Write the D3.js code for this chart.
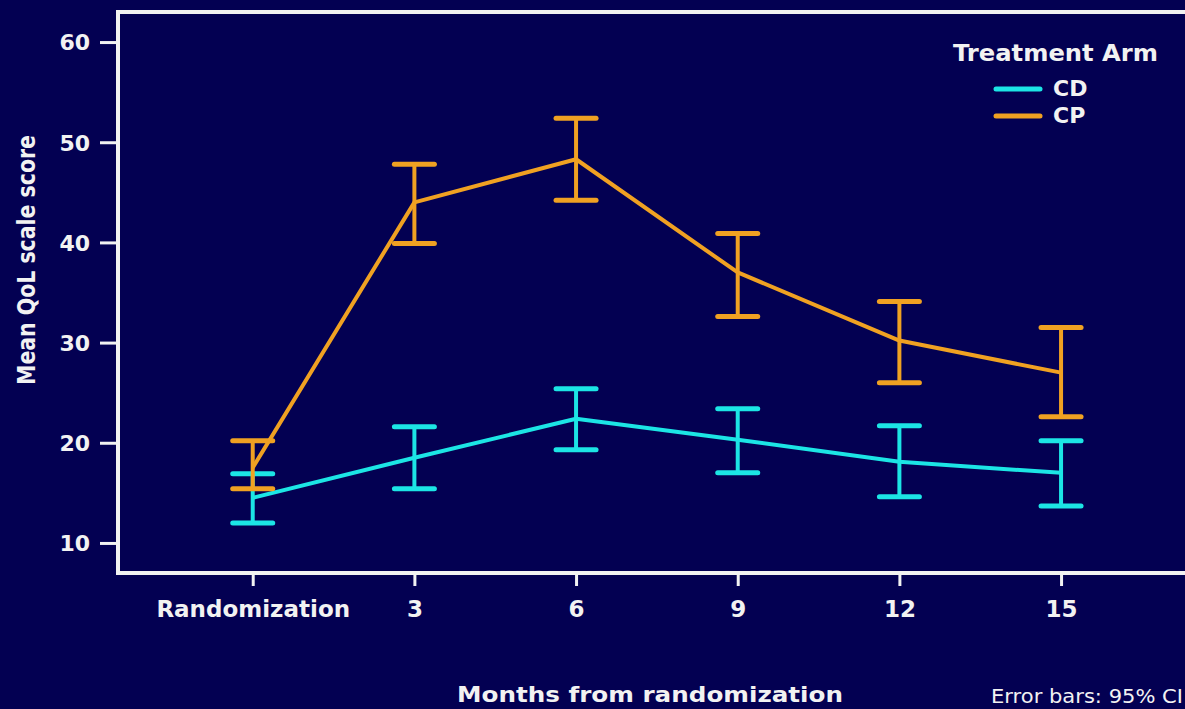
<!DOCTYPE html>
<html>
<head>
<meta charset="utf-8">
<script src="https://cdn.jsdelivr.net/npm/d3@7/dist/d3.min.js"></script>
<style>
  html, body { margin: 0; padding: 0; background: #030052; }
  svg { display: block; }
  text { font-family: "DejaVu Sans", "Open Sans", sans-serif; fill: #f2f2f2; }
</style>
</head>
<body>
<svg id="chart" width="1185" height="709"></svg>
<script>
// Visits (months from randomization) and their tick labels
const months = [0, 3, 6, 9, 12, 15];
const monthLabels = ["Randomization", "3", "6", "9", "12", "15"];
const yTicks = [10, 20, 30, 40, 50, 60];

// Mean QoL scale score and 95% CI per arm
const cdMean  = [14.5, 18.5, 22.4, 20.3, 18.1, 17.0];
const cdLower = [12.0, 15.4, 19.3, 17.0, 14.6, 13.7];
const cdUpper = [16.9, 21.6, 25.4, 23.4, 21.7, 20.2];

const cpMean  = [17.5, 44.0, 48.3, 37.0, 30.2, 27.0];
const cpLower = [15.4, 39.9, 44.2, 32.6, 26.0, 22.6];
const cpUpper = [20.2, 47.8, 52.4, 40.9, 34.1, 31.5];

const armNames = ["CD", "CP"];
const armColors = ["#1ce5e5", "#f0a122"];

const svg = d3.select("#chart");
const W = 1185, H = 709;
svg.append("rect").attr("width", W).attr("height", H).attr("fill", "#030052");

const plotLeft = 118, plotRight = 1185, plotTop = 12, plotBottom = 573;

const x = d3.scaleLinear().domain([-2.5, 17.3]).range([plotLeft, plotRight]);
const y = d3.scaleLinear().domain([7, 63]).range([plotBottom, plotTop]);

// Frame: top, left and bottom lines
const frame = svg.append("g").attr("stroke", "#f2f2f2").attr("stroke-width", 4).attr("fill", "none");
frame.append("path").attr("d", `M${plotRight + 5},${plotTop} H${plotLeft} V${plotBottom} H${plotRight + 5}`);

// Y axis
const yAxis = svg.append("g").attr("transform", `translate(${plotLeft - 2},0)`)
  .call(d3.axisLeft(y).tickValues(yTicks).tickSize(16).tickPadding(10).tickFormat(d3.format("d")));
yAxis.select(".domain").remove();
yAxis.selectAll(".tick line").attr("stroke", "#f2f2f2").attr("stroke-width", 3);
yAxis.selectAll(".tick text").attr("font-size", 22).attr("font-weight", 700).attr("fill", "#f2f2f2")
  .attr("dy", "0.36em");

// X axis
const xAxis = svg.append("g").attr("transform", `translate(0,${plotBottom + 2})`)
  .call(d3.axisBottom(x).tickValues(months).tickSize(11).tickPadding(15)
    .tickFormat((d, i) => monthLabels[i]));
xAxis.select(".domain").remove();
xAxis.selectAll(".tick line").attr("stroke", "#f2f2f2").attr("stroke-width", 3);
xAxis.selectAll(".tick text").attr("font-size", 23).attr("font-weight", 700).attr("fill", "#f2f2f2");

// Axis titles
svg.append("text")
  .attr("transform", `translate(35,260) rotate(-90)`)
  .attr("text-anchor", "middle")
  .attr("font-family", "Open Sans, sans-serif")
  .attr("font-size", 25).attr("font-weight", 700)
  .attr("textLength", 250).attr("lengthAdjust", "spacingAndGlyphs")
  .text("Mean QoL scale score");

svg.append("text")
  .attr("x", 650).attr("y", 702)
  .attr("text-anchor", "middle")
  .attr("font-size", 22).attr("font-weight", 700)
  .attr("textLength", 386).attr("lengthAdjust", "spacingAndGlyphs")
  .text("Months from randomization");

svg.append("text")
  .attr("x", 1183).attr("y", 703)
  .attr("text-anchor", "end")
  .attr("font-family", "Open Sans, sans-serif")
  .attr("font-size", 19)
  .attr("textLength", 192).attr("lengthAdjust", "spacingAndGlyphs")
  .text("Error bars: 95% CI");

// Series
const series = [
  { name: armNames[0], color: armColors[0], mean: cdMean, lo: cdLower, hi: cdUpper },
  { name: armNames[1], color: armColors[1], mean: cpMean, lo: cpLower, hi: cpUpper }
];

const line = d3.line().x((d, i) => x(months[i])).y(d => y(d));
const capHalf = 20;

series.forEach(s => {
  const g = svg.append("g");
  // error bars
  months.forEach((m, i) => {
    const cx = x(m);
    g.append("line").attr("x1", cx).attr("x2", cx).attr("y1", y(s.lo[i])).attr("y2", y(s.hi[i]))
      .attr("stroke", s.color).attr("stroke-width", 4);
    [s.lo[i], s.hi[i]].forEach(v => {
      g.append("line").attr("x1", cx - capHalf).attr("x2", cx + capHalf).attr("y1", y(v)).attr("y2", y(v))
        .attr("stroke", s.color).attr("stroke-width", 5).attr("stroke-linecap", "round");
    });
  });
  // mean line
  g.append("path").datum(s.mean).attr("d", line)
    .attr("fill", "none").attr("stroke", s.color).attr("stroke-width", 4).attr("stroke-linejoin", "round");
});

// Legend
const lg = svg.append("g");
lg.append("text").attr("x", 953).attr("y", 61).attr("font-size", 23).attr("font-weight", 700)
  .attr("textLength", 205).attr("lengthAdjust", "spacingAndGlyphs")
  .text("Treatment Arm");
series.forEach((s, i) => {
  const ly = 89 + i * 27;
  lg.append("line").attr("x1", 996).attr("x2", 1040).attr("y1", ly).attr("y2", ly)
    .attr("stroke", s.color).attr("stroke-width", 5).attr("stroke-linecap", "round");
  lg.append("text").attr("x", 1053).attr("y", ly + 7).attr("font-size", 22).attr("font-weight", 700)
    .text(s.name);
});
</script>
</body>
</html>
